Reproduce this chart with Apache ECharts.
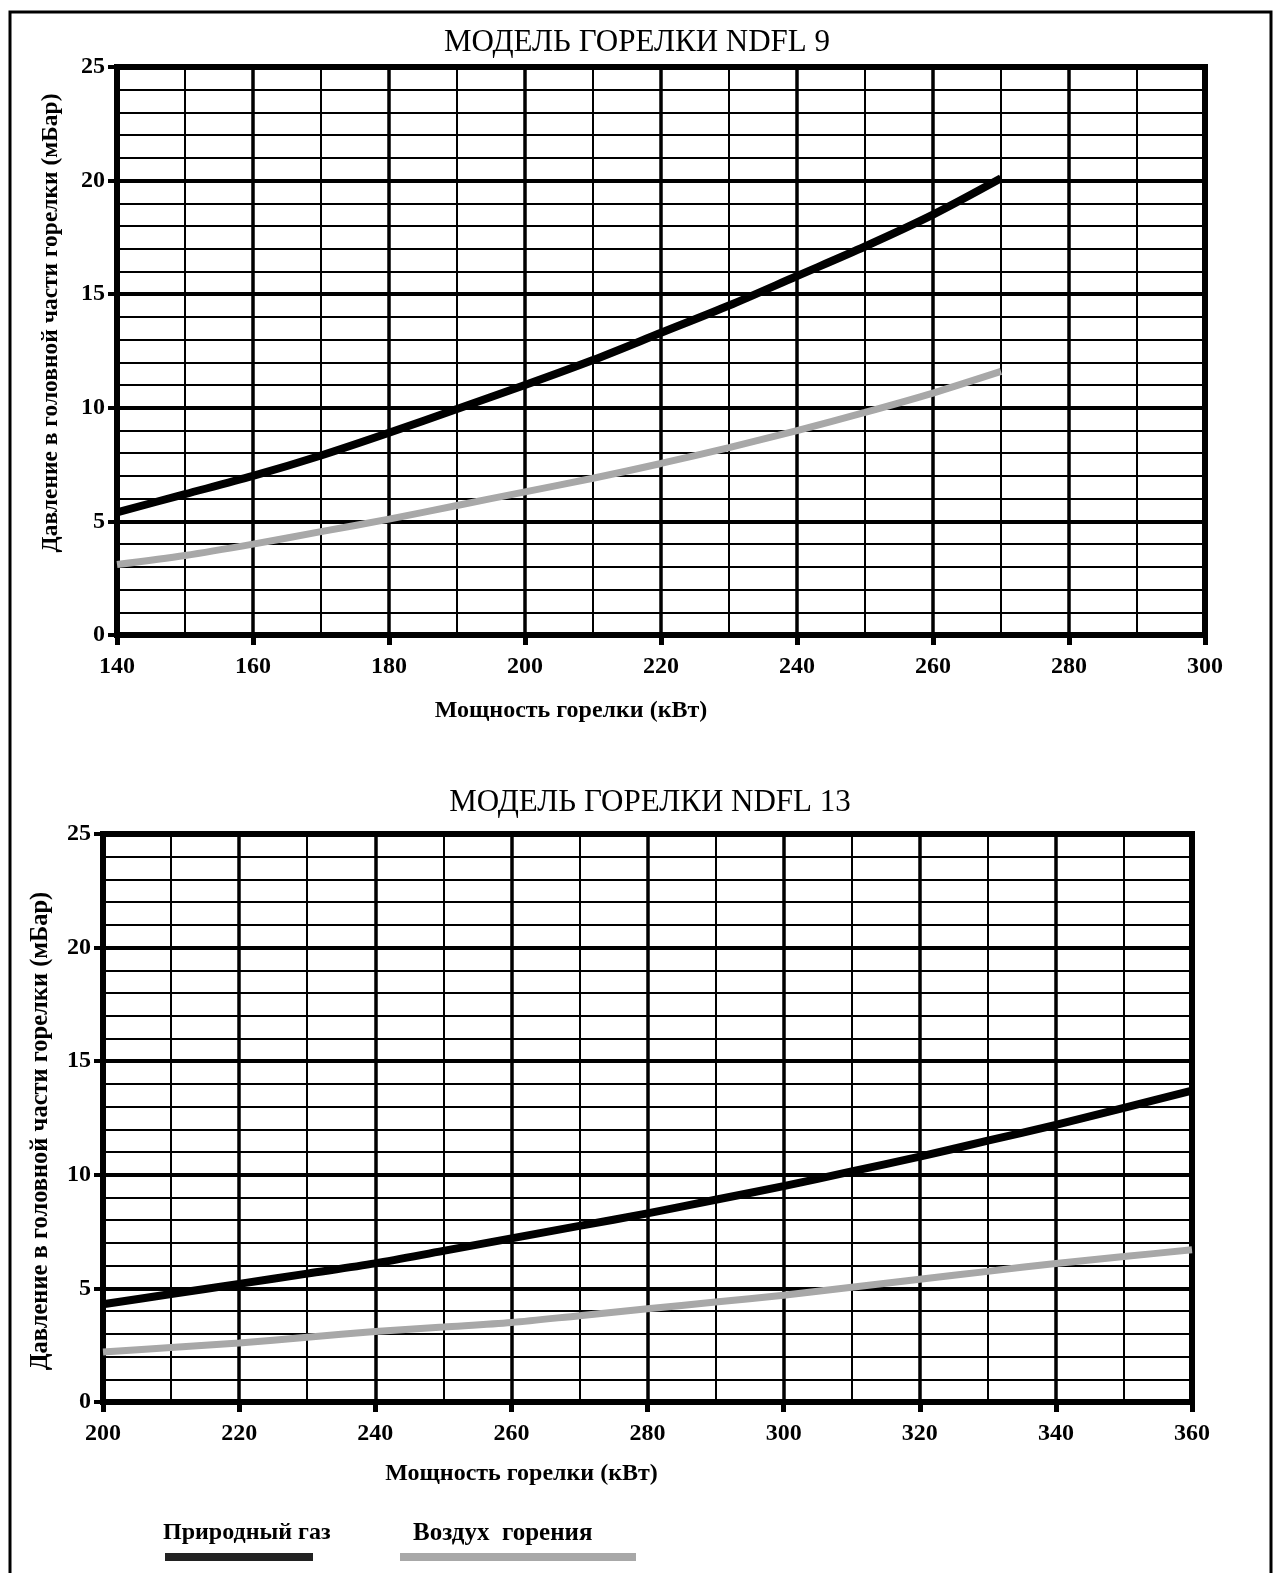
<!DOCTYPE html>
<html>
<head>
<meta charset="utf-8">
<script src="https://cdn.jsdelivr.net/npm/echarts@6/dist/echarts.min.js"></script>
<style>
html,body{margin:0;padding:0;background:#fff;}
#c{width:1282px;height:1573px;}
</style>
</head>
<body>
<div id="c"></div>
<script>
// ---- data ----
var titles = ['МОДЕЛЬ ГОРЕЛКИ NDFL 9', 'МОДЕЛЬ ГОРЕЛКИ NDFL 13'];
var xName = 'Мощность горелки (кВт)';
var yName = 'Давление в головной части горелки (мБар)';
var seriesNames = ['Природный газ', 'Воздух  горения'];

var power9 = [140, 150, 160, 170, 180, 190, 200, 210, 220, 230, 240, 250, 260, 270];
var gas9   = [5.4, 6.2, 7.0, 7.9, 8.9, 9.95, 11.0, 12.1, 13.3, 14.5, 15.8, 17.1, 18.5, 20.1];
var air9   = [3.1, 3.5, 4.0, 4.55, 5.1, 5.7, 6.3, 6.9, 7.55, 8.25, 9.0, 9.8, 10.65, 11.6];

var power13 = [200, 210, 220, 230, 240, 250, 260, 270, 280, 290, 300, 310, 320, 330, 340, 350, 360];
var gas13   = [4.3, 4.75, 5.2, 5.65, 6.1, 6.65, 7.2, 7.75, 8.3, 8.9, 9.5, 10.15, 10.8, 11.5, 12.2, 12.95, 13.7];
var air13   = [2.2, 2.4, 2.6, 2.85, 3.1, 3.3, 3.5, 3.8, 4.1, 4.4, 4.7, 5.05, 5.4, 5.75, 6.1, 6.4, 6.7];

var xRange9 = [140, 300];
var xRange13 = [200, 360];
var yRange = [0, 25];

function pairs(xs, ys) { return xs.map(function (x, i) { return [x, ys[i]]; }); }

var serif = '"Liberation Serif", "DejaVu Serif", serif';

function xAxisOf(gi, range) {
  return {
    type: 'value', gridIndex: gi, min: range[0], max: range[1], interval: 20,
    name: xName, nameLocation: 'middle', nameGap: gi === 0 ? 64 : 60,
    nameTextStyle: { fontFamily: serif, fontWeight: 'bold', fontSize: 24, color: '#000',
      padding: gi === 0 ? [0, 180, 0, 0] : [0, 252, 0, 0] },
    axisLine: { show: true, lineStyle: { color: '#000', width: 6 } },
    axisTick: { show: true, length: 10, lineStyle: { color: '#000', width: 5 } },
    axisLabel: { color: '#000', fontFamily: serif, fontWeight: 'bold', fontSize: 24, margin: 20 },
    splitLine: { show: true, lineStyle: { color: '#000', width: 3.5 } },
    minorTick: { show: false, splitNumber: 2 },
    minorSplitLine: { show: true, lineStyle: { color: '#000', width: 2 } }
  };
}
function yAxisOf(gi) {
  return {
    type: 'value', gridIndex: gi, min: yRange[0], max: yRange[1], interval: 5,
    name: yName, nameLocation: 'middle', nameGap: gi === 0 ? 54 : 50,
    nameTextStyle: { fontFamily: serif, fontWeight: 'bold', fontSize: gi === 0 ? 23.5 : 24.5, color: '#000',
      padding: gi === 0 ? [0, 0, 0, 56] : [0, 26, 0, 0] },
    axisLine: { show: true, lineStyle: { color: '#000', width: 6 } },
    axisTick: { show: true, length: 9, lineStyle: { color: '#000', width: 4 } },
    axisLabel: { color: '#000', fontFamily: serif, fontWeight: 'bold', fontSize: 24, margin: 12 },
    splitLine: { show: true, lineStyle: { color: '#000', width: 4 } },
    minorTick: { show: false, splitNumber: 5 },
    minorSplitLine: { show: true, lineStyle: { color: '#000', width: 2 } }
  };
}
function lineSeries(name, xi, data, color, w) {
  return {
    name: name, type: 'line', xAxisIndex: xi, yAxisIndex: xi, data: data,
    smooth: 0.3, showSymbol: false, symbol: 'none', z: 5,
    lineStyle: { color: color, width: w, cap: 'butt' }, itemStyle: { color: color },
    emphasis: { disabled: true }, animation: false
  };
}

var chart = echarts.init(document.getElementById('c'), null, { renderer: 'canvas' });
chart.setOption({
  backgroundColor: '#fff',
  animation: false,
  title: [
    { text: titles[0], left: 632, top: 22, textAlign: 'center',
      textStyle: { fontFamily: serif, fontWeight: 'normal', fontSize: 31, color: '#000' } },
    { text: titles[1], left: 645, top: 782, textAlign: 'center',
      textStyle: { fontFamily: serif, fontWeight: 'normal', fontSize: 31, color: '#000' } }
  ],
  grid: [
    { left: 117, top: 67, width: 1088, height: 568, show: true, borderColor: '#000', borderWidth: 6, backgroundColor: 'transparent' },
    { left: 103, top: 834, width: 1089, height: 568, show: true, borderColor: '#000', borderWidth: 6, backgroundColor: 'transparent' }
  ],
  xAxis: [xAxisOf(0, xRange9), xAxisOf(1, xRange13)],
  yAxis: [yAxisOf(0), yAxisOf(1)],
  series: [
    lineSeries(seriesNames[0], 0, pairs(power9, gas9), '#000', 8),
    lineSeries(seriesNames[1], 0, pairs(power9, air9), '#a8a8a8', 7),
    lineSeries(seriesNames[0], 1, pairs(power13, gas13), '#000', 8),
    lineSeries(seriesNames[1], 1, pairs(power13, air13), '#a8a8a8', 7)
  ],
  graphic: [
    { type: 'rect', shape: { x: 10, y: 12, width: 1261, height: 1620 }, style: { fill: 'none', stroke: '#000', lineWidth: 3 }, silent: true, z: 0 },
    { type: 'text', x: 163, y: 1521, style: { text: seriesNames[0], font: 'bold 24px ' + serif, fill: '#000' } },
    { type: 'rect', shape: { x: 165, y: 1553, width: 148, height: 8 }, style: { fill: '#222' } },
    { type: 'text', x: 413, y: 1521, style: { text: seriesNames[1], font: 'bold 25px ' + serif, fill: '#000' } },
    { type: 'rect', shape: { x: 400, y: 1553, width: 236, height: 8 }, style: { fill: '#a8a8a8' } }
  ]
});
</script>
</body>
</html>
